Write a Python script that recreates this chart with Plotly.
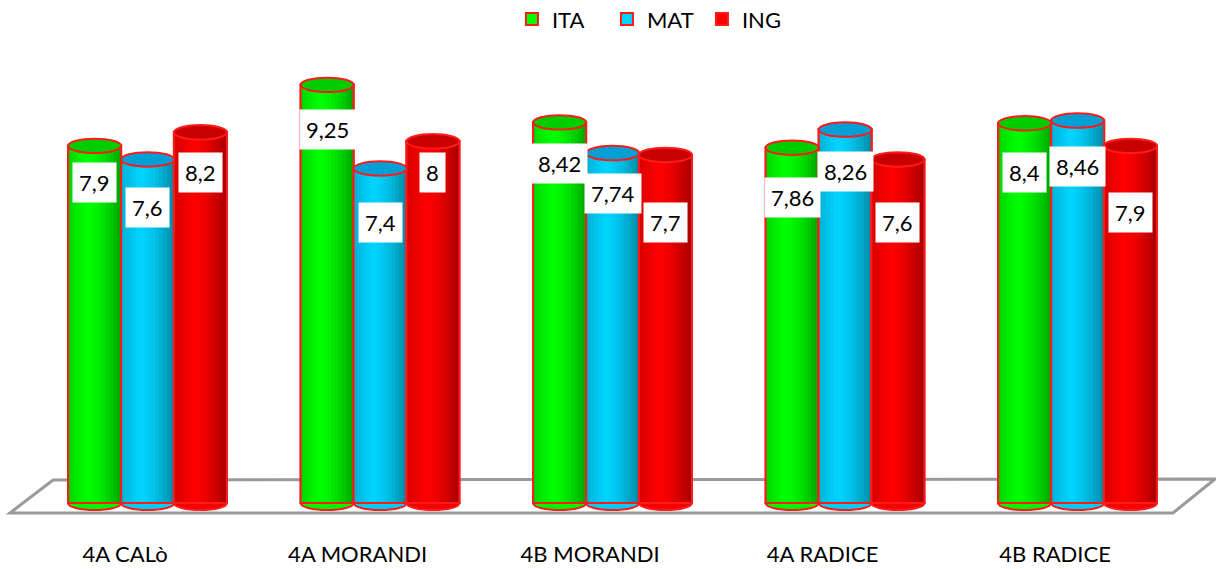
import plotly.graph_objects as go

# ---------------- data ----------------
categories = ["4A CALò", "4A MORANDI", "4B MORANDI", "4A RADICE", "4B RADICE"]
ita = [7.9, 9.25, 8.42, 7.86, 8.4]
mat = [7.6, 7.4, 7.74, 8.26, 8.46]
ing = [8.2, 8.0, 7.7, 7.6, 7.9]
series_names = ["ITA", "MAT", "ING"]

# ---------------- styles ----------------
base_rgb = [(0, 255, 0), (0, 212, 255), (255, 0, 0)]
top_rgb = [(0, 205, 0), (0, 160, 215), (200, 0, 0)]
outline = "#ff1a1a"
bar_w = 0.228
offsets = [-0.245, -0.017, 0.21]
# label pixel shift below the top of each cylinder (style only)
label_drop = [[37, 45, 41, 50, 49], [48, 54, 40, 42, 46], [40, 31, 68, 63, 67]]
ell_h = 0.16
N_STRIPS = 14
FONT = "Lato, Open Sans, sans-serif"

xs = list(range(len(categories)))
values = [ita, mat, ing]


def shade(rgb, t):
    if t < 0.35:
        f = 0.84 + 0.16 * (t / 0.35)
    else:
        f = 1 - 0.36 * ((t - 0.35) / 0.65) ** 1.6
    return "rgb(%d,%d,%d)" % tuple(int(c * f) for c in rgb)


def rgb_str(rgb):
    return "rgb(%d,%d,%d)" % rgb


fig = go.Figure()
shapes = []

# floor (decoration, paper coordinates)
shapes.append(dict(type="path", xref="paper", yref="paper", layer="below",
                   path="M 0.0436 0.1064 L 0.9992 0.1085 L 0.9646 0.0362 L 0.0082 0.0362 Z",
                   line=dict(color="#9a9a9a", width=3), fillcolor="rgba(255,255,255,0)"))

for s, name in enumerate(series_names):
    vals = values[s]
    off = offsets[s]
    # base bar (legend entry)
    fig.add_trace(go.Bar(x=xs, y=vals, base=0, offset=off, width=bar_w, name=name,
                         marker=dict(color=rgb_str(base_rgb[s]), line=dict(color=outline, width=2)),
                         hoverinfo="skip", showlegend=True, legendrank=s))
    # shading strips
    for k in range(N_STRIPS):
        t = (k + 0.5) / N_STRIPS
        fig.add_trace(go.Bar(x=xs, y=vals, base=0, offset=off + k * bar_w / N_STRIPS,
                             width=bar_w * (N_STRIPS - k) / N_STRIPS,
                             marker=dict(color=shade(base_rgb[s], t), line=dict(width=0)),
                             hoverinfo="skip", showlegend=False))
    # outline
    fig.add_trace(go.Bar(x=xs, y=vals, base=0, offset=off, width=bar_w,
                         marker=dict(color="rgba(0,0,0,0)", line=dict(color=outline, width=2)),
                         hoverinfo="skip", showlegend=False))
    for i, v in enumerate(vals):
        x0 = xs[i] + off
        x1 = x0 + bar_w
        # top ellipse
        shapes.append(dict(type="circle", xref="x", yref="y", x0=x0, x1=x1,
                           y0=v - ell_h, y1=v + ell_h, fillcolor=rgb_str(top_rgb[s]),
                           line=dict(color=outline, width=2)))
        # bottom ellipse
        shapes.append(dict(type="circle", xref="x", yref="y", x0=x0, x1=x1, layer="below",
                           y0=-ell_h, y1=ell_h, fillcolor=shade(base_rgb[s], 0.5),
                           line=dict(color=outline, width=2)))

annotations = []
for s in range(3):
    for i, v in enumerate(values[s]):
        annotations.append(dict(x=xs[i] + offsets[s] + bar_w / 2, y=v, xref="x", yref="y",
                                yshift=-label_drop[s][i], showarrow=False,
                                text=("%g" % v).replace(".", ","),
                                font=dict(family=FONT, size=22, color="black"),
                                bgcolor="white", borderpad=6))

fig.update_layout(
    width=1216, height=569,
    barmode="overlay",
    plot_bgcolor="white", paper_bgcolor="white",
    margin=dict(l=0, r=0, t=60, b=39, autoexpand=False),
    shapes=shapes, annotations=annotations,
    showlegend=True,
    legend=dict(orientation="h", x=0.421, xanchor="left", y=1.087, yanchor="middle",
                font=dict(family=FONT, size=22, color="black"), traceorder="normal",
                entrywidth=50, itemclick=False),
    xaxis=dict(range=[-0.538, 4.692], tickmode="array", tickvals=xs, ticktext=categories,
               showgrid=False, zeroline=False, showline=False, ticks="",
               ticklabelstandoff=9,
               tickfont=dict(family=FONT, size=22, color="black")),
    yaxis=dict(range=[-0.6, 9.8], visible=False, showgrid=False, zeroline=False),
)

fig.write_html("out.html", config={"displayModeBar": False})

# remove the default page margin so the figure sits at the window origin
with open("out.html", "r", encoding="utf-8") as fh:
    html = fh.read()
html = html.replace("<body>", '<body style="margin:0;padding:0">', 1)
with open("out.html", "w", encoding="utf-8") as fh:
    fh.write(html)
